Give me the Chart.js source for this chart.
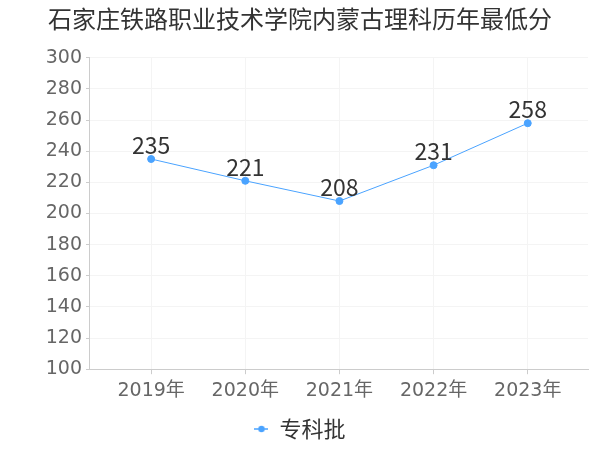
<!DOCTYPE html>
<html>
<head>
<meta charset="utf-8">
<script src="https://cdn.jsdelivr.net/npm/chart.js@4/dist/chart.umd.min.js"></script>
<style>
  html, body { margin: 0; padding: 0; background: #fff; }
  #wrap { width: 600px; height: 450px; }
</style>
</head>
<body>
<div id="wrap"><canvas id="chart"></canvas></div>
<script>
// chart data
const years = ['2019年', '2020年', '2021年', '2022年', '2023年'];
const scores = [235, 221, 208, 231, 258];
const seriesName = '专科批';
const yTicks = [100, 120, 140, 160, 180, 200, 220, 240, 260, 280, 300];

const FONT = '"DejaVu Sans", "Noto Sans CJK SC", sans-serif';
const CJK = '"Noto Sans CJK SC", sans-serif';
const lineColor = '#4aa3ff';

// legend marker: short line with a dot in the middle
const marker = document.createElement('canvas');
marker.width = 14;
marker.height = 8;
const mctx = marker.getContext('2d');
mctx.strokeStyle = lineColor;
mctx.lineWidth = 1.5;
mctx.beginPath();
mctx.moveTo(0, 4);
mctx.lineTo(14, 4);
mctx.stroke();
mctx.fillStyle = lineColor;
mctx.beginPath();
mctx.arc(7, 4, 3.2, 0, Math.PI * 2);
mctx.fill();

// value labels above each point
const valueLabels = {
  id: 'valueLabels',
  afterDatasetsDraw(chart) {
    const ctx = chart.ctx;
    const meta = chart.getDatasetMeta(0);
    ctx.save();
    ctx.font = '23px ' + CJK;
    ctx.fillStyle = '#333';
    ctx.textAlign = 'center';
    ctx.textBaseline = 'alphabetic';
    meta.data.forEach((pt, i) => {
      ctx.fillText(String(scores[i]), pt.x, pt.y - 5);
    });
    ctx.restore();
  }
};

const chart = new Chart(document.getElementById('chart'), {
  type: 'line',
  data: {
    datasets: [{
      label: seriesName,
      data: scores.map((v, i) => ({ x: i, y: v })),
      borderColor: lineColor,
      backgroundColor: lineColor,
      borderWidth: 1,
      pointRadius: 3.5,
      pointHoverRadius: 3.5,
      pointStyle: 'circle',
      tension: 0,
      fill: false
    }]
  },
  options: {
    responsive: true,
    maintainAspectRatio: false,
    animation: false,
    layout: { padding: { left: 12, right: 12, top: 0, bottom: 0 } },
    plugins: {
      title: {
        display: true,
        text: '石家庄铁路职业技术学院内蒙古理科历年最低分',
        color: '#333',
        font: { family: CJK, size: 24, weight: 'normal' },
        padding: { top: 4, bottom: 25 }
      },
      legend: {
        position: 'bottom',
        labels: {
          usePointStyle: true,
          pointStyle: marker,
          pointStyleWidth: 14,
          color: '#333',
          font: { family: CJK, size: 22 },
          padding: 11
        }
      },
      tooltip: { enabled: false }
    },
    scales: {
      x: {
        type: 'linear',
        min: -0.66,
        max: 4.64,
        afterBuildTicks(axis) {
          axis.ticks = years.map((_, i) => ({ value: i }));
        },
        ticks: {
          callback: (v) => years[v],
          color: '#666',
          font: { family: FONT, size: 19 },
          padding: 5
        },
        grid: {
          color: '#f4f4f4',
          tickColor: '#ccc',
          tickLength: 5
        },
        border: { color: '#ccc' }
      },
      y: {
        min: 100,
        max: 300,
        afterBuildTicks(axis) {
          axis.ticks = yTicks.map(v => ({ value: v }));
        },
        afterFit(axis) {
          axis.width = 77;
        },
        ticks: {
          color: '#666',
          font: { family: FONT, size: 19 },
          padding: 4
        },
        grid: {
          color: '#f4f4f4',
          tickColor: '#ccc',
          tickLength: 3
        },
        border: { color: '#ccc' }
      }
    }
  },
  plugins: [valueLabels]
});
</script>
</body>
</html>
